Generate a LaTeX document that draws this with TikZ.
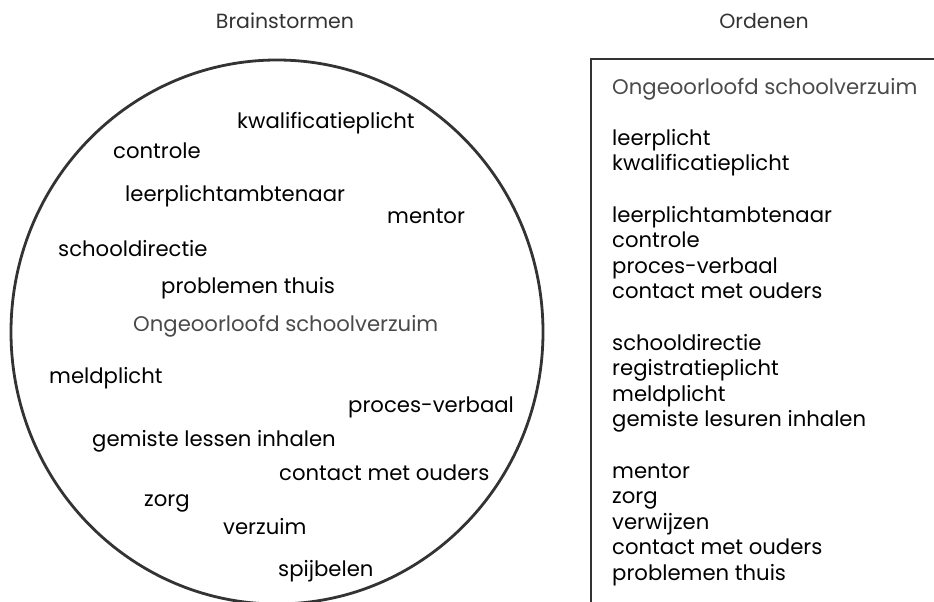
\documentclass[tikz,border=0pt]{standalone}
\usepackage{fontspec}
\setmainfont{Poppins}
\usetikzlibrary{positioning}

\definecolor{linegray}{HTML}{333333}
\definecolor{titlegray}{HTML}{4A4A4A}

\begin{document}
\begin{tikzpicture}[x=1pt,y=-1pt,
  word/.style={anchor=west,inner sep=0pt,text height=15pt,text depth=3pt,
    font=\fontsize{21.2}{25}\selectfont},
  topic/.style={word,text=titlegray},
  header/.style={inner sep=0pt,text=linegray,font=\fontsize{20.5}{24}\selectfont},
  outline/.style={draw=linegray,line width=2.8pt}]

\useasboundingbox (0,0) rectangle (934,602);
\clip (0,0) rectangle (934,602);

% Column headers
\node[header] (brain) at (285,21) {Brainstormen};
\node[header] (orden) at (764,21) {Ordenen};

% Brainstorm circle
\draw[outline] (277,332) ellipse [x radius=266, y radius=272];

% Loose words inside the circle
\node[word] (kwal) at (237,122) {kwalificatieplicht};
\node[word] (contr) at (113,152) {controle};
\node[word] (lpa) at (125,195) {leerplichtambtenaar};
\node[word] (ment) at (387,217) {mentor};
\node[word] (sdir) at (58,250) {schooldirectie};
\node[word] (probl) at (161,287) {problemen thuis};
\node[topic] (onder) at (133,325) {Ongeoorloofd schoolverzuim};
\node[word] (meld) at (49,377) {meldplicht};
\node[word] (pv) at (348,406) {proces-verbaal};
\node[word] (gem) at (92,440) {gemiste lessen inhalen};
\node[word] (cmo) at (279,474) {contact met ouders};
\node[word] (zorg) at (144,500) {zorg};
\node[word] (verz) at (223,528) {verzuim};
\node[word] (spijb) at (278,570) {spijbelen};

% Ordered list (box runs off the page)
\draw[outline] (591,620) -- (591,59) -- (950,59);

\def\lx{612}
\def\ly{88}
\def\lh{25.6}
\node[topic] (titel) at (\lx,\ly) {Ongeoorloofd schoolverzuim};
\foreach \i/\w in {2/leerplicht, 3/kwalificatieplicht,
    5/leerplichtambtenaar, 6/controle, 7/proces-verbaal, 8/contact met ouders,
    10/schooldirectie, 11/registratieplicht, 12/meldplicht, 13/gemiste lesuren inhalen,
    15/mentor, 16/zorg, 17/verwijzen, 18/contact met ouders, 19/problemen thuis}
  \node[word] (r\i) at (\lx,\ly+\i*\lh) {\w};

\end{tikzpicture}
\end{document}
